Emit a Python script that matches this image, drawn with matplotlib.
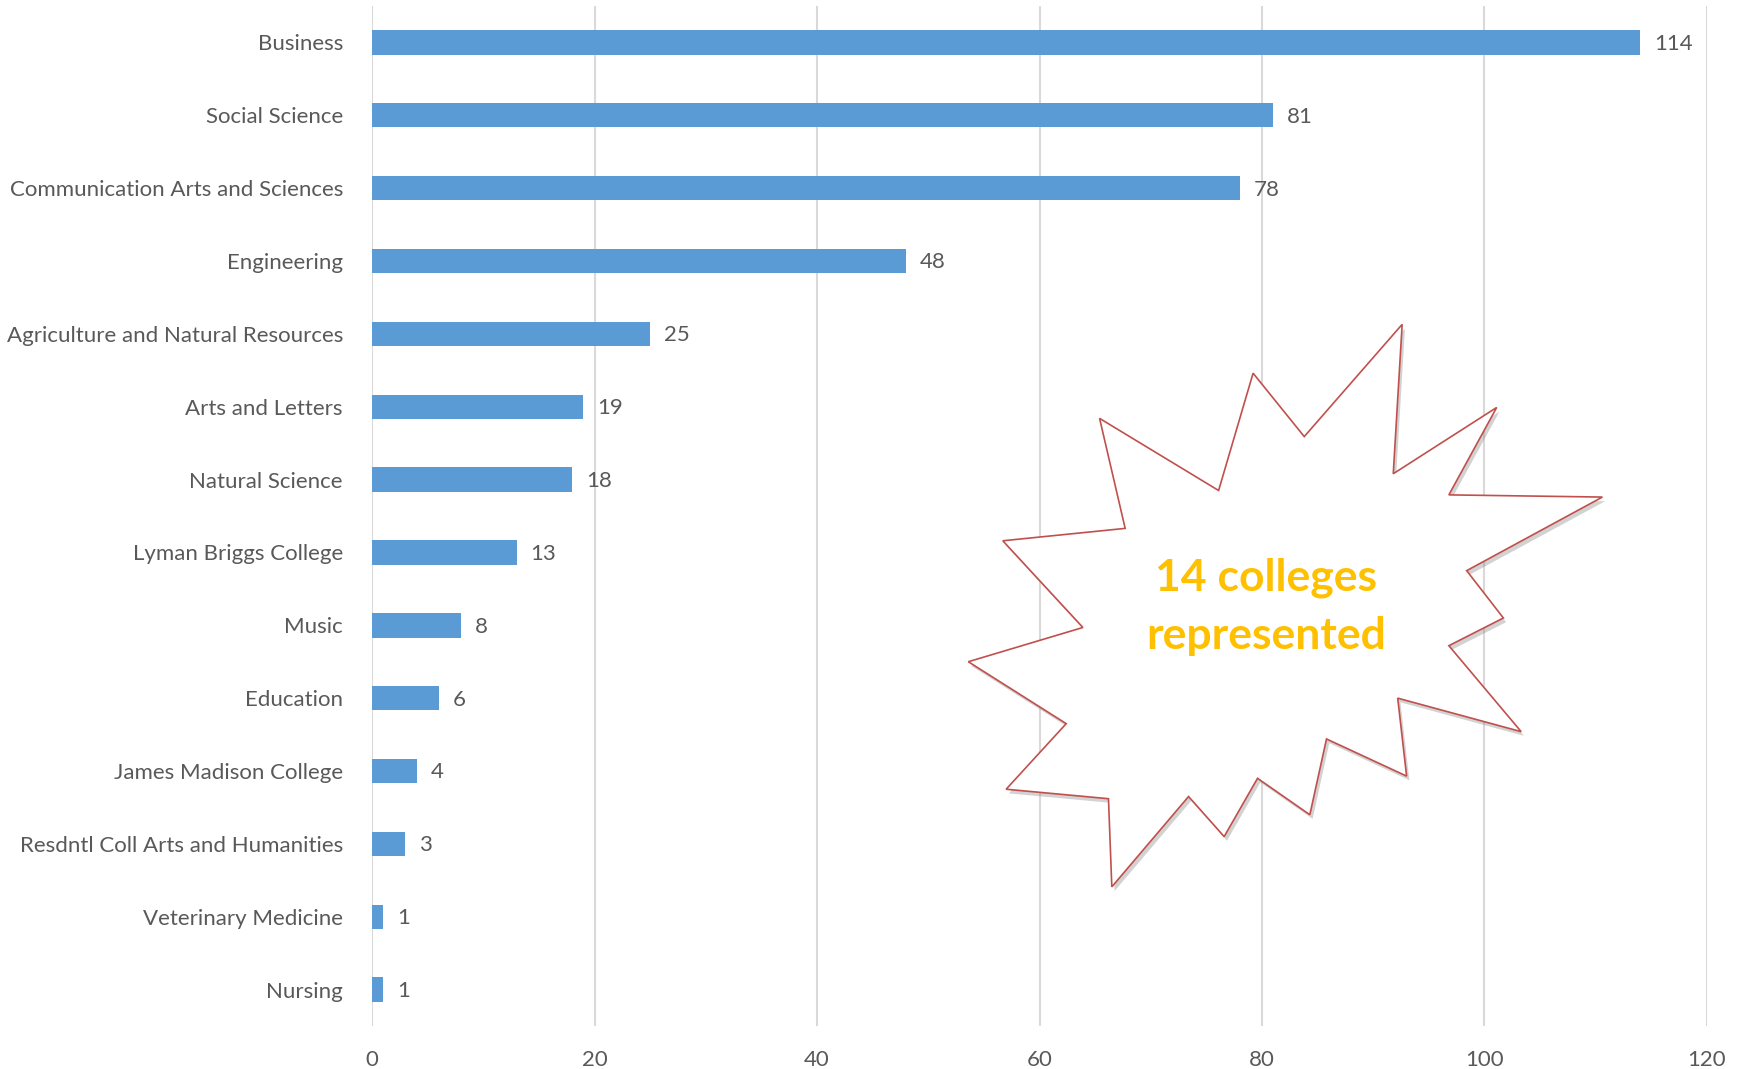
import matplotlib
matplotlib.use('Agg')
import matplotlib.pyplot as plt
import matplotlib.patheffects as pe
from matplotlib.patches import Polygon

# Students per college
colleges = [
    "Business", "Social Science", "Communication Arts and Sciences",
    "Engineering", "Agriculture and Natural Resources", "Arts and Letters",
    "Natural Science", "Lyman Briggs College", "Music", "Education",
    "James Madison College", "Resdntl Coll Arts and Humanities",
    "Veterinary Medicine", "Nursing",
]
counts = [114, 81, 78, 48, 25, 19, 18, 13, 8, 6, 4, 3, 1, 1]
x_ticks = [0, 20, 40, 60, 80, 100, 120]

callout_text = "14 colleges\nrepresented"

BAR_COLOR = '#5B9BD5'
GRID_COLOR = '#D9D9D9'
TEXT_COLOR = '#595959'
FS = 16

plt.rcParams['font.family'] = ['Lato', 'DejaVu Sans']

fig = plt.figure(figsize=(17.37, 10.69), dpi=100)
ax = fig.add_axes([0.2142, 0.0402, 0.7685, 0.9542])

positions = list(range(len(colleges)))
bars = ax.barh(positions, counts, height=0.335, color=BAR_COLOR, zorder=3)

# value labels just past the end of each bar
for pos, val in zip(positions, counts):
    ax.annotate(str(val), xy=(val, pos), xytext=(10, -1), textcoords='offset points',
                ha='left', va='center', fontsize=FS, color=TEXT_COLOR)

ax.set_ylim(len(colleges) - 0.5, -0.5)
ax.set_xlim(0, 120)
ax.set_yticks(positions)
ax.set_yticklabels(colleges)
ax.set_xticks(x_ticks)

ax.tick_params(axis='y', length=0, pad=21, labelsize=FS, labelcolor=TEXT_COLOR)
ax.tick_params(axis='x', length=0, pad=17, labelsize=FS, labelcolor=TEXT_COLOR)

for s in ax.spines.values():
    s.set_visible(False)
ax.grid(axis='x', color=GRID_COLOR, linewidth=1.5, zorder=0)
ax.set_axisbelow(True)

# starburst callout, drawn in data coordinates
burst = [
    (92.6, 3.87), (91.8, 5.92), (101.1, 5.01), (96.8, 6.21), (110.6, 6.24),
    (98.4, 7.25), (101.7, 7.90), (96.8, 8.28), (103.3, 9.46), (92.2, 9.00),
    (93.0, 10.07), (85.8, 9.56), (84.3, 10.60), (79.6, 10.10), (76.6, 10.90),
    (73.4, 10.35), (66.5, 11.59), (66.2, 10.38), (57.0, 10.25), (62.4, 9.35),
    (53.6, 8.50), (63.9, 8.03), (56.7, 6.84), (67.7, 6.67), (65.4, 5.16),
    (76.1, 6.15), (79.2, 4.54), (83.8, 5.41),
]
star = Polygon(burst, closed=True, facecolor='white', edgecolor='#C0504D',
               linewidth=1.2, zorder=5)
star.set_path_effects([
    pe.SimplePatchShadow(offset=(2, -3), shadow_rgbFace='#808080', alpha=0.35),
    pe.Normal(),
])
ax.add_patch(star)

ax.text(80.4, 7.75, callout_text, ha='center', va='center', fontsize=32,
        fontweight='bold', color='#FFC000', linespacing=1.55, zorder=6)

fig.savefig('out.png', dpi=100, facecolor='white')
plt.close(fig)
